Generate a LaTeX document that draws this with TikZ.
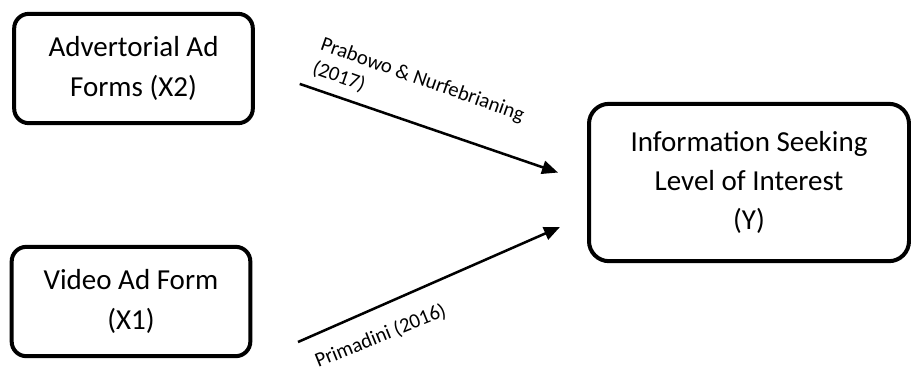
\documentclass[tikz,border=0pt]{standalone}
\usepackage{fontspec}
\setmainfont{Carlito}
\usetikzlibrary{arrows.meta}
\begin{document}
\begin{tikzpicture}[x=0.75pt, y=-0.75pt,
        box/.style = {draw, line width=3pt, rounded corners=11pt, align=center,
            font=\fontsize{21.75pt}{29.5pt}\selectfont, inner sep=0pt},
        lbl/.style = {inner sep=0pt, align=left, font=\fontsize{15.5pt}{18.6pt}\selectfont},
        link/.style = {line width=1.9pt, -{Triangle[length=12pt, width=10pt]}}]
        \useasboundingbox (0, 0) rectangle (911, 369);
        \node [box, minimum width=179pt, minimum height=82pt] (x2) at (133.5, 68.5)
            {Advertorial Ad\\Forms (X2)};
        \node [box, minimum width=179pt, minimum height=82pt] (x1) at (131, 301.5)
            {Video Ad Form\\(X1)};
        \node [box, rounded corners=15pt, minimum width=240pt, minimum height=118pt] (y) at (749, 182.5)
            {Information Seeking\\Level of Interest\\(Y)};
        \coordinate (p1s) at (298, 342);
        \coordinate (p1e) at (560, 227);
        \draw [link, shorten <=35.6pt, shorten >=23pt] (x2.east) -- (y.west);
        \draw [link] (p1s) -- (p1e);
        % base anchor sits on the last line
        \node [lbl, anchor=base west, rotate=-19.5] (l2) at (311, 73)
            {Prabowo \& Nurfebrianing\\(2017)};
        \node [lbl, anchor=base west, rotate=22] (l1) at (318, 368) {Primadini (2016)};
    \end{tikzpicture}
\end{document}
